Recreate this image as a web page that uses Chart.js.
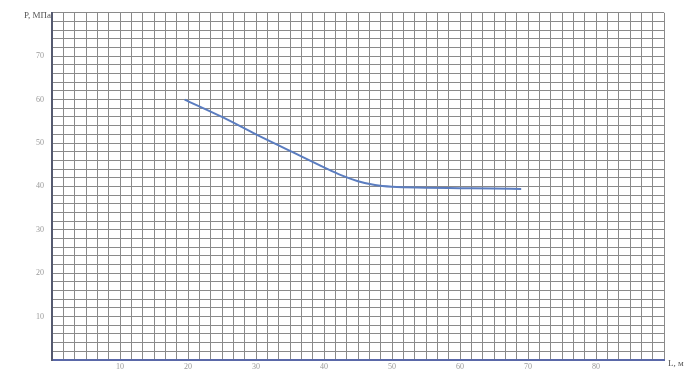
<!DOCTYPE html>
<html>
<head>
<meta charset="utf-8">
<script src="https://cdn.jsdelivr.net/npm/chart.js@4"></script>
<style>
  html, body { margin: 0; padding: 0; background: #fff; }
  #wrap { width: 685px; height: 376px; }
</style>
</head>
<body>
<div id="wrap"><canvas id="chart"></canvas></div>
<script>
// data
var lengths = [19.5, 25, 30, 35, 40, 42.5, 45, 47.5, 50, 55, 60, 65, 69];
var pressures = [60, 56, 52, 48.2, 44.4, 42.6, 41.2, 40.3, 39.9, 39.7, 39.6, 39.5, 39.4];

var xLabels = [10, 20, 30, 40, 50, 60, 70, 80];
var yLabels = [10, 20, 30, 40, 50, 60, 70];

var yTitle = 'P, МПа';
var xTitle = 'L, м';

function isLabel(v, list) {
    for (var i = 0; i < list.length; i++) {
        if (Math.abs(v - list[i]) < 1e-6) return true;
    }
    return false;
}

var titles = {
    id: 'titles',
    afterDraw: function (chart) {
        var ctx = chart.ctx;
        var area = chart.chartArea;
        ctx.save();
        ctx.fillStyle = '#555';
        ctx.font = '9px "Liberation Serif", serif';
        ctx.textBaseline = 'middle';
        ctx.textAlign = 'right';
        ctx.fillText(yTitle, area.left - 1, area.top + 3);
        ctx.textAlign = 'left';
        ctx.fillText(xTitle, area.right + 4, area.bottom + 4);
        ctx.restore();
    }
};

var points = lengths.map(function (l, i) { return { x: l, y: pressures[i] }; });

var ctx = document.getElementById('chart').getContext('2d');
window.chart = new Chart(ctx, {
    type: 'line',
    data: {
        datasets: [{
            data: points,
            borderColor: '#5b7dc0',
            borderWidth: 2,
            pointRadius: 0,
            fill: false,
            cubicInterpolationMode: 'monotone'
        }]
    },
    options: {
        responsive: true,
        maintainAspectRatio: false,
        animation: false,
        layout: { padding: { top: 12, right: 21, left: 0, bottom: 0 } },
        plugins: { legend: { display: false }, tooltip: { enabled: false } },
        scales: {
            x: {
                type: 'linear',
                min: 0,
                max: 90,
                afterFit: function (s) { s.height = 16; },
                ticks: {
                    stepSize: 10 / 6,
                    autoSkip: false,
                    maxRotation: 0,
                    padding: 2,
                    color: '#999',
                    font: { size: 8, family: '"Liberation Serif", serif' },
                    callback: function (v) { return isLabel(v, xLabels) ? String(Math.round(v)) : ''; }
                },
                grid: { color: '#8a8a8a', lineWidth: 1, drawTicks: false },
                border: { color: '#5a68a8', width: 2 }
            },
            y: {
                min: 0,
                max: 80,
                afterFit: function (s) { s.width = 52; },
                ticks: {
                    stepSize: 2,
                    autoSkip: false,
                    padding: 8,
                    color: '#999',
                    font: { size: 8, family: '"Liberation Serif", serif' },
                    callback: function (v) { return isLabel(v, yLabels) ? String(Math.round(v)) : ''; }
                },
                grid: { color: '#8a8a8a', lineWidth: 1, drawTicks: false },
                border: { color: '#555a70', width: 2 }
            }
        }
    },
    plugins: [titles]
});
</script>
</body>
</html>
